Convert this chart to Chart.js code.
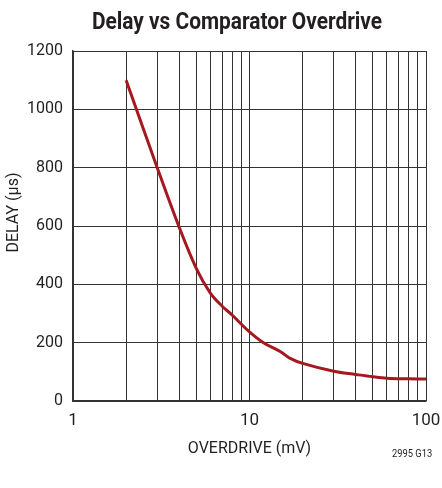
<!DOCTYPE html>
<html>
<head>
<meta charset="utf-8">
<script src="https://cdn.jsdelivr.net/npm/chart.js@4/dist/chart.umd.min.js"></script>
<style>
  body { margin: 0; background: #fff; }
  #wrap { position: relative; width: 442px; height: 488px; }
  #titre { position: absolute; left: 237px; top: 7px; white-space: nowrap;
           transform: translateX(-50%) scaleX(0.87);
           font: bold 24px Roboto, sans-serif; color: #231f20; }
  #ref { position: absolute; left: 392px; top: 447px; white-space: nowrap;
         transform: scaleX(0.85); transform-origin: left;
         font: 11px Roboto, sans-serif; color: #231f20; }
</style>
</head>
<body>
<div id="wrap">
  <canvas id="graphDelay" width="442" height="488"></canvas>
  <div id="titre">Delay vs Comparator Overdrive</div>
  <div id="ref">2995 G13</div>
</div>
<script>
const overdrive = [2, 3, 4, 5, 6, 7, 8, 9, 10, 12, 15, 17, 20, 30, 40, 50, 60, 80, 100];
const delay = [1100, 800, 595, 454, 370, 325, 294, 263, 237, 200, 169, 146, 129, 102, 91, 83, 78, 76, 75];
const yTicks = [0, 200, 400, 600, 800, 1000, 1200];
const xGrid = [1, 2, 3, 4, 5, 6, 7, 8, 9, 10, 20, 30, 40, 50, 60, 70, 80, 90, 100];
const xLabels = [1, 10, 100];

const police = "Roboto, sans-serif";

const ctx = document.getElementById('graphDelay').getContext('2d');
new Chart(ctx, {
    type: 'line',
    data: {
        datasets: [{
            data: overdrive.map((x, i) => ({ x: x, y: delay[i] })),
            borderColor: '#a3191f',
            borderWidth: 3,
            pointRadius: 0,
            fill: false,
            tension: 0.35
        }]
    },
    options: {
        responsive: false,
        animation: false,
        layout: { padding: { top: 51, right: 16, bottom: 25, left: 0 } },
        plugins: { legend: { display: false }, tooltip: { enabled: false } },
        scales: {
            x: {
                type: 'logarithmic',
                min: 1, max: 100,
                afterBuildTicks: s => { s.ticks = xGrid.map(v => ({ value: v, major: xLabels.includes(v) })); },
                grid: { color: '#333', lineWidth: 1, drawTicks: false },
                border: { color: '#333', width: 1.5 },
                ticks: {
                    autoSkip: false, maxRotation: 0, padding: 10,
                    color: '#231f20', font: { family: police, size: 17 },
                    callback: v => xLabels.includes(v) ? String(v) : ''
                },
                title: { display: true, text: 'OVERDRIVE (mV)', color: '#231f20',
                         font: { family: police, size: 16 }, padding: { top: 8 } },
                afterFit: s => { s.height = 62; s.paddingLeft = 0; s.paddingRight = 0; }
            },
            y: {
                min: 0, max: 1200,
                afterBuildTicks: s => { s.ticks = yTicks.map(v => ({ value: v })); },
                grid: { color: '#333', lineWidth: 1, drawTicks: false },
                border: { color: '#333', width: 1.5 },
                ticks: { padding: 10, color: '#231f20', font: { family: police, size: 16 },
                         callback: v => String(v) },
                // espaces en tête pour remonter le titre comme sur l'original
                title: { display: true, text: '\u2007\u2007\u2007DELAY (µs)', color: '#231f20',
                         font: { family: police, size: 16 } },
                afterFit: s => { s.width = 73; s.paddingTop = 0; s.paddingBottom = 0; }
            }
        }
    }
});
</script>
</body>
</html>
